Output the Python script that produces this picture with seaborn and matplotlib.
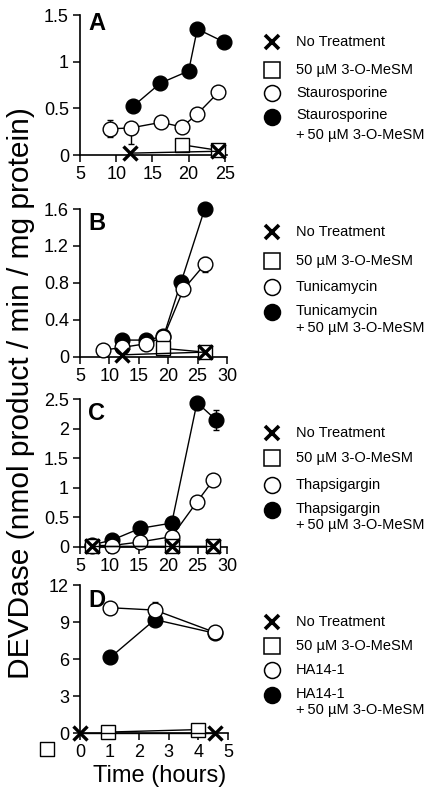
import matplotlib
matplotlib.use("Agg")
import matplotlib.pyplot as plt
import seaborn as sns
import numpy as np

# ---------------- data ----------------
# Panel A (Staurosporine)
A_t_nt = [11.9, 24.1]; A_nt = [0.02, 0.04]
A_t_ms = [19.05, 24.1]; A_ms = [0.11, 0.05]
A_t_open = [9.1, 12.0, 16.2, 19.1, 21.2, 24.1]; A_open = [0.28, 0.29, 0.35, 0.30, 0.44, 0.67]
A_t_fill = [12.3, 16.1, 20.0, 21.2, 24.9]; A_fill = [0.52, 0.77, 0.90, 1.35, 1.21]
A_err_open_lo = [0.09, 0.17, 0, 0, 0, 0]; A_err_open_hi = [0.09, 0, 0, 0, 0, 0]

# Panel B (Tunicamycin)
B_t_nt = [12.1, 26.2]; B_nt = [0.02, 0.05]
B_t_ms = [19.2, 26.2]; B_ms = [0.09, 0.05]
B_t_open = [8.9, 12.1, 16.2, 19.2, 22.6, 26.2]; B_open = [0.07, 0.10, 0.14, 0.21, 0.73, 1.00]
B_t_fill = [12.1, 16.2, 19.2, 22.2, 26.2]; B_fill = [0.18, 0.18, 0.22, 0.81, 1.60]
B_err_open = [0, 0, 0, 0, 0, 0.08]

# Panel C (Thapsigargin)
C_t_nt = [7.0, 20.6, 27.7]; C_nt = [0.02, 0.02, 0.02]
C_t_ms = [7.0, 20.6, 27.7]; C_ms = [0.02, 0.02, 0.02]
C_t_open = [7.0, 10.4, 15.2, 20.6, 24.9, 27.7]; C_open = [0.02, 0.02, 0.08, 0.17, 0.76, 1.13]
C_t_fill = [7.0, 10.4, 15.2, 20.6, 24.9, 28.2]; C_fill = [0.03, 0.11, 0.31, 0.40, 2.44, 2.14]
C_err_fill = [0, 0, 0, 0, 0, 0.17]

# Panel D (HA14-1), time in hours
D_t_nt = [0.0, 4.55]; D_nt = [0.0, 0.0]
D_t_ms = [0.96, 4.0]; D_ms = [0.1, 0.3]
D_stray_t = [-1.1]; D_stray = [-1.3]
D_t_open = [1.03, 2.53, 4.55]; D_open = [10.16, 9.97, 8.17]
D_t_fill = [1.03, 2.53, 4.55]; D_fill = [6.15, 9.2, 8.1]
D_err_open_lo = [0.5, 0, 0]; D_err_open_hi = [0, 0.65, 0]

treat_names = ["Staurosporine", "Tunicamycin", "Thapsigargin", "HA14-1"]
panel_letters = ["A", "B", "C", "D"]
y_ticks = [[0, 0.5, 1, 1.5], [0, 0.4, 0.8, 1.2, 1.6], [0, 0.5, 1, 1.5, 2, 2.5], [0, 3, 6, 9, 12]]
y_ticklabels = [["0", "0.5", "1", "1.5"], ["0", "0.4", "0.8", "1.2", "1.6"],
                ["0", "0.5", "1", "1.5", "2", "2.5"], ["0", "3", "6", "9", "12"]]
x_ticks = [[5, 10, 15, 20, 25], [5, 10, 15, 20, 25, 30], [5, 10, 15, 20, 25, 30], [0, 1, 2, 3, 4, 5]]

# ---------------- style ----------------
sns.set_style("ticks")
plt.rcParams['font.family'] = ['Liberation Sans', 'DejaVu Sans']
plt.rcParams['text.color'] = 'black'
plt.rcParams['axes.labelcolor'] = 'black'
plt.rcParams['xtick.color'] = 'black'
plt.rcParams['ytick.color'] = 'black'
plt.rcParams['axes.edgecolor'] = 'black'

W, H = 425, 792
fig = plt.figure(figsize=(W / 100, H / 100), dpi=100)

# axes pixel boxes: (left, top, right, bottom)
boxes = [(80, 15, 227, 155), (80, 209, 227, 356.7), (80, 399, 227, 546.7), (80, 585, 228, 733.3)]
letter_top = [15, 215, 405, 592]

def px_axes(b):
    l, t, r, bt = b
    return [l / W, 1 - bt / H, (r - l) / W, (bt - t) / H]

panels = [
    (A_t_nt, A_nt, A_t_ms, A_ms, A_t_open, A_open, A_t_fill, A_fill),
    (B_t_nt, B_nt, B_t_ms, B_ms, B_t_open, B_open, B_t_fill, B_fill),
    (C_t_nt, C_nt, C_t_ms, C_ms, C_t_open, C_open, C_t_fill, C_fill),
    (D_t_nt, D_nt, D_t_ms, D_ms, D_t_open, D_open, D_t_fill, D_fill),
]
xlims = [(5, 25.3), (5, 30), (5, 30), (0, 5)]

MS = 10.6
lw = 1.0
for i, (tn, yn, tm, ym, to, yo, tf, yf) in enumerate(panels):
    ax = fig.add_axes(px_axes(boxes[i]))
    # filled circles
    sns.lineplot(x=tf, y=yf, ax=ax, color='black', lw=lw, marker='o', markersize=MS,
                 markerfacecolor='black', markeredgecolor='black', markeredgewidth=1,
                 clip_on=False, zorder=3, estimator=None, sort=False)
    # open circles
    sns.lineplot(x=to, y=yo, ax=ax, color='black', lw=lw, marker='o', markersize=MS,
                 markerfacecolor='white', markeredgecolor='black', markeredgewidth=1,
                 clip_on=False, zorder=4, estimator=None, sort=False)
    # squares
    sns.lineplot(x=tm, y=ym, ax=ax, color='black', lw=lw, marker='s', markersize=10,
                 markerfacecolor='white', markeredgecolor='black', markeredgewidth=1,
                 clip_on=False, zorder=5, estimator=None, sort=False)
    # no treatment crosses
    sns.lineplot(x=tn, y=yn, ax=ax, color='black', lw=lw, marker='x', markersize=10,
                 markeredgecolor='black', markeredgewidth=2.4,
                 clip_on=False, zorder=6, estimator=None, sort=False)

    if i == 0:
        ax.errorbar(A_t_open, A_open, yerr=[A_err_open_lo, A_err_open_hi], fmt='none',
                    ecolor='black', elinewidth=1, capsize=2.5, zorder=2)
    if i == 1:
        ax.errorbar(B_t_open, B_open, yerr=B_err_open, fmt='none',
                    ecolor='black', elinewidth=1, capsize=2.5, zorder=2)
    if i == 2:
        ax.errorbar(C_t_fill, C_fill, yerr=C_err_fill, fmt='none',
                    ecolor='black', elinewidth=1, capsize=2.5, zorder=2)
    if i == 3:
        ax.errorbar(D_t_open, D_open, yerr=[D_err_open_lo, D_err_open_hi], fmt='none',
                    ecolor='black', elinewidth=1, capsize=2.5, zorder=2)
        sns.scatterplot(x=D_stray_t, y=D_stray, ax=ax, marker='s', s=10 ** 2 * 1.0,
                        facecolor='white', edgecolor='black', linewidth=1, clip_on=False, zorder=5)

    ax.set_xlim(*xlims[i])
    ax.set_ylim(0, y_ticks[i][-1])
    ax.set_xticks(x_ticks[i])
    ax.set_xticklabels([str(v) for v in x_ticks[i]])
    ax.set_yticks(y_ticks[i])
    ax.set_yticklabels(y_ticklabels[i])
    ax.tick_params(axis='both', direction='out', length=5, width=1.1, labelsize=13,
                   color='black', labelcolor='black', pad=3)
    for s in ['top', 'right']:
        ax.spines[s].set_visible(False)
    for s in ['left', 'bottom']:
        ax.spines[s].set_linewidth(1.2)
        ax.spines[s].set_color('black')
    ax.set_xlabel("")
    ax.set_ylabel("")
    ax.patch.set_alpha(0)

    # panel letter
    fig.text((88) / W, 1 - (letter_top[i] - 3) / H, panel_letters[i], fontsize=17,
             fontweight='bold', va='top', ha='left', color='black')

# ---------------- legends (manual) ----------------
leg_rows = [
    (41.7, 70, 92.7, 115.5, 135),
    (232, 261, 287, 310.5, 328),
    (433, 458, 485, 508.5, 525),
    (622, 646, 670, 693.5, 710),
]
mk_x = 271.7 / W
tx_x = 296 / W
legend_ax = fig.add_axes([0, 0, 1, 1])
legend_ax.set_xlim(0, 1)
legend_ax.set_ylim(0, 1)
legend_ax.axis('off')
legend_ax.patch.set_alpha(0)
for i, rows in enumerate(leg_rows):
    r_nt, r_ms, r_op, r_f1, r_f2 = [1 - r / H for r in rows]
    legend_ax.plot([mk_x], [r_nt], marker='x', ms=10.5, mew=2.6, color='black', ls='none')
    legend_ax.plot([mk_x], [r_ms], marker='s', ms=11, mew=1.1, mfc='white', mec='black', ls='none')
    legend_ax.plot([mk_x], [r_op], marker='o', ms=11.5, mew=1.1, mfc='white', mec='black', ls='none')
    legend_ax.plot([mk_x], [r_f1 - 1.5 / H], marker='o', ms=11.5, mew=1.1, mfc='black', mec='black', ls='none')
    fs = 10.5
    legend_ax.text(tx_x, r_nt, "No Treatment", fontsize=fs, va='center', ha='left')
    legend_ax.text(tx_x, r_ms, "50 \u00b5M 3-O-MeSM", fontsize=fs, va='center', ha='left')
    legend_ax.text(tx_x, r_op, treat_names[i], fontsize=fs, va='center', ha='left')
    legend_ax.text(tx_x, r_f1, treat_names[i], fontsize=fs, va='center', ha='left')
    legend_ax.text(tx_x, r_f2, "+\u200950 \u00b5M 3-O-MeSM", fontsize=fs, va='center', ha='left')

# ---------------- axis titles ----------------
fig.text(21 / W, 1 - 393 / H, "DEVDase (nmol product / min / mg protein)", rotation=90,
         fontsize=21.5, va='center', ha='center')
fig.text(160 / W, 1 - 776 / H, "Time (hours)", fontsize=17, va='center', ha='center')

fig.savefig("out.png", dpi=100, facecolor='white')
